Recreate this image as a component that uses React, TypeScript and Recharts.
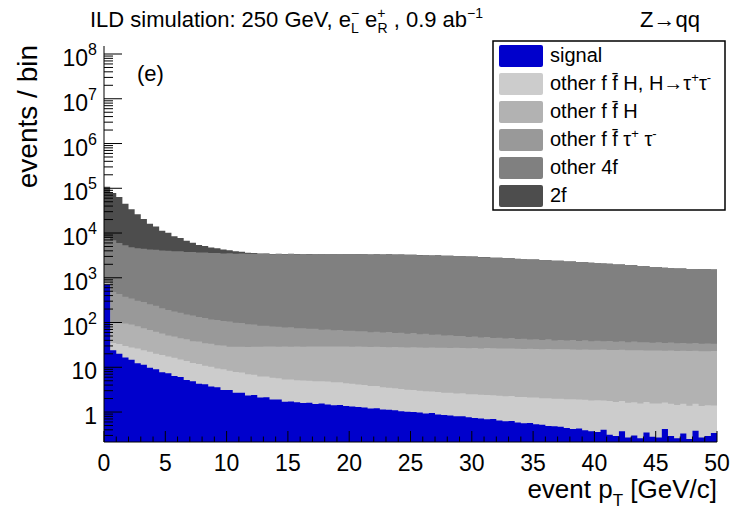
import React from 'react';
import { ComposedChart, Area, XAxis, YAxis } from 'recharts';

const FONT = '"Liberation Sans", Arial, Helvetica, sans-serif';

// lower edges of the 0.5 GeV pT bins, plus the closing edge at 50
const BIN_EDGES = Array.from({ length: 101 }, (_, i) => i * 0.5);

// events per bin (bottom of the stack first)
const signal = [
  700, 24, 20, 16.5, 14.8, 12.3, 11.4, 9.8, 9.0, 7.7,
  7.4, 6.4, 6.1, 5.2, 4.9, 4.3, 4.2, 3.7, 3.6, 3.1,
  3.1, 2.7, 2.7, 2.35, 2.4, 2.1, 2.15, 1.9, 1.9, 1.7,
  1.72, 1.66, 1.6, 1.62, 1.52, 1.55, 1.47, 1.42, 1.44, 1.36,
  1.33, 1.3, 1.26, 1.2, 1.22, 1.14, 1.12, 1.1, 1.04, 1.02,
  1.0, 0.98, 0.93, 0.95, 0.88, 0.86, 0.84, 0.8, 0.81, 0.76,
  0.74, 0.72, 0.69, 0.7, 0.65, 0.62, 0.63, 0.58, 0.56, 0.57,
  0.53, 0.52, 0.49, 0.48, 0.47, 0.44, 0.42, 0.43, 0.39, 0.37,
  0.36, 0.4, 0.31, 0.29, 0.37, 0.27, 0.3, 0.26, 0.35, 0.28,
  0.27, 0.42, 0.29, 0.26, 0.33, 0.25, 0.38, 0.27, 0.29, 0.34,
];

const ffHtautau = [
  30, 11, 13, 13.5, 13, 14, 12.5, 12.4, 11, 11.2,
  10, 9.9, 8.8, 8.7, 7.5, 7.5, 6.6, 6.6, 5.8, 5.9,
  5.3, 5.1, 4.95, 4.6, 4.45, 4.15, 4.05, 3.9, 3.8, 3.65,
  3.62, 3.5, 3.48, 3.4, 3.38, 3.3, 3.32, 3.2, 3.18, 3.02,
  2.98, 2.82, 2.78, 2.62, 2.58, 2.42, 2.38, 2.28, 2.22, 2.12,
  2.12, 2.02, 2.0, 1.92, 1.92, 1.85, 1.87, 1.8, 1.82, 1.75,
  1.77, 1.7, 1.72, 1.66, 1.67, 1.62, 1.64, 1.58, 1.6, 1.54,
  1.57, 1.52, 1.55, 1.5, 1.52, 1.48, 1.52, 1.47, 1.5, 1.45,
  1.48, 1.42, 1.45, 1.38, 1.4, 1.34, 1.36, 1.3, 1.32, 1.27,
  1.28, 1.22, 1.24, 1.18, 1.2, 1.14, 1.16, 1.1, 1.12, 1.06,
];

const ffH = [
  40, 65, 65, 65, 62, 56, 51, 46, 42, 38,
  34, 32.5, 29.5, 28.5, 26, 25.8, 23.6, 23.2, 21.5, 21.6,
  20.5, 20.8, 21.2, 21.5, 22, 22.6, 22.8, 23.2, 23.2, 23.6,
  23.6, 24.0, 23.8, 24.2, 24.1, 24.4, 24.3, 24.6, 24.5, 24.8,
  24.6, 25.0, 24.7, 24.5, 25.1, 24.8, 24.6, 25.0, 24.9, 24.7,
  25.0, 24.8, 24.5, 24.9, 24.6, 24.7, 24.3, 24.6, 24.5, 24.2,
  24.3, 24.0, 24.4, 24.1, 23.8, 24.2, 23.9, 23.8, 23.6, 23.9,
  23.6, 23.4, 23.7, 23.3, 23.2, 23.5, 23.1, 22.9, 23.2, 22.9,
  22.8, 23.0, 22.6, 22.7, 22.8, 22.3, 22.4, 22.6, 22.1, 22.3,
  22.2, 21.9, 22.1, 21.8, 21.9, 21.6, 21.8, 21.5, 21.3, 21.6,
];

const ffTauTau = [
  80, 380, 335, 282, 254, 224, 212, 189, 176, 151,
  140, 127, 122, 108, 105, 95, 92, 84, 83, 77,
  76, 70, 69, 63, 61, 56, 56, 52, 52, 48,
  49, 45, 46, 43, 44, 40, 41, 38, 39, 36,
  37, 34.5, 35.5, 32.5, 33.5, 31.5, 33, 30, 31, 28.5,
  30, 27, 28.5, 25.5, 26.5, 24, 25, 22.5, 23, 21,
  22, 20, 20.5, 18.5, 19.5, 17.5, 18.8, 17, 17.8, 16,
  16.8, 15.5, 16.3, 14.6, 15.7, 14.1, 15.6, 14, 15.2, 13.6,
  14.6, 13.5, 14.2, 13, 13.7, 12.5, 13.6, 12.1, 12.7, 11.6,
  12.6, 11.5, 12.1, 11.1, 11.6, 11, 11.6, 10.6, 11.5, 10.7,
];

const other4f = [
  7000, 6420, 5570, 4920, 4480, 4260, 4190, 4010, 3990, 3860,
  3840, 3750, 3760, 3640, 3630, 3540, 3550, 3460, 3470, 3390,
  3420, 3360, 3390, 3330, 3350, 3300, 3340, 3290, 3335, 3290,
  3330, 3285, 3325, 3290, 3320, 3280, 3315, 3275, 3310, 3270,
  3300, 3265, 3290, 3255, 3285, 3245, 3270, 3230, 3250, 3195,
  3210, 3150, 3165, 3105, 3115, 3050, 3060, 2990, 2990, 2925,
  2920, 2845, 2845, 2765, 2765, 2685, 2675, 2600, 2595, 2520,
  2505, 2430, 2425, 2350, 2345, 2275, 2265, 2195, 2185, 2115,
  2105, 2035, 2025, 1945, 1935, 1870, 1855, 1790, 1775, 1710,
  1695, 1635, 1625, 1578, 1572, 1540, 1536, 1512, 1510, 1492,
];

const twoF = [
  100000, 71000, 57500, 39800, 29000, 21700, 16100, 11800, 9800, 7150,
  6100, 4550, 3780, 2900, 2300, 1760, 1480, 1170, 1010, 760,
  620, 450, 330, 200, 150, 85, 62, 45, 35, 28,
  22, 20, 18, 16, 15, 14, 12, 11, 10, 10,
  9, 8, 8, 7, 7, 6, 6, 6, 5, 5,
  5, 4, 4, 4, 4, 4, 4, 3, 3, 3,
  3, 3, 3, 3, 3, 3, 3, 3, 3, 3,
  3, 3, 3, 3, 2, 2, 2, 2, 2, 2,
  2, 2, 2, 2, 2, 2, 2, 2, 2, 2,
  2, 2, 2, 2, 2, 2, 2, 2, 2, 2,
];

const SERIES = [
  { key: 'signal', color: '#0000cc', values: signal },
  { key: 'ffHtautau', color: '#cccccc', values: ffHtautau },
  { key: 'ffH', color: '#b2b2b2', values: ffH },
  { key: 'ffTauTau', color: '#999999', values: ffTauTau },
  { key: 'other4f', color: '#808080', values: other4f },
  { key: 'twoF', color: '#4d4d4d', values: twoF },
];

const X_TICKS = Array.from({ length: 51 }, (_, i) => i);
const Y_DECADES = [0.1, 1, 10, 100, 1e3, 1e4, 1e5, 1e6, 1e7, 1e8];
const Y_MIN = 0.214;
const Y_MAX = 1.51e8;
const Y_TICKS = Y_DECADES.flatMap((d) => [1, 2, 3, 4, 5, 6, 7, 8, 9].map((k) => k * d)).filter(
  (v) => v >= Y_MIN && v <= Y_MAX
);

// cumulative stack tops per bin edge
const data = BIN_EDGES.map((x, i) => {
  const bin = Math.min(i, signal.length - 1);
  const row: Record<string, number> = { x };
  let sum = 0;
  SERIES.forEach((s) => {
    sum += s.values[bin];
    row[s.key] = sum;
  });
  return row;
});

const isDecade = (v: number) => Math.abs(Math.log10(v) - Math.round(Math.log10(v))) < 1e-9;

const XTick = (props: any) => {
  const { x, y, payload } = props;
  const v = payload.value;
  const major = v % 5 === 0;
  return (
    <g>
      <line x1={x} x2={x} y1={y} y2={y - (major ? 11 : 5.5)} stroke="#000" strokeWidth={1} />
      {major && (
        <text x={x} y={y + 29} textAnchor="middle" fontSize={23} fontFamily={FONT} fill="#000">
          {v}
        </text>
      )}
    </g>
  );
};

const YTick = (props: any) => {
  const { x, y, payload } = props;
  const v = payload.value;
  const major = isDecade(v);
  const exp = Math.round(Math.log10(v));
  return (
    <g>
      <line x1={x} x2={x + (major ? 18 : 9)} y1={y} y2={y} stroke="#000" strokeWidth={1} />
      {major && exp >= 0 && (
        <text x={x - 7} y={y + 12} textAnchor="end" fontSize={23} fontFamily={FONT} fill="#000">
          {exp === 0 ? '1' : '10'}
          {exp >= 2 && (
            <tspan fontSize={16} dy={-11}>
              {exp}
            </tspan>
          )}
        </text>
      )}
    </g>
  );
};

const LEGEND_ROWS = ['signal', 'ffHtautau', 'ffH', 'ffTauTau', 'other4f', 'twoF'];

const LegendLabel = ({ k }: { k: string }) => {
  const sup = { fontSize: 13 };
  if (k === 'signal') return <>signal</>;
  if (k === 'ffHtautau')
    return (
      <>
        {'other f f\u0304 H, H→τ'}
        <tspan {...sup} dy={-8}>+</tspan>
        <tspan dy={8}>τ</tspan>
        <tspan {...sup} dy={-8}>-</tspan>
      </>
    );
  if (k === 'ffH') return <>{'other f f\u0304 H'}</>;
  if (k === 'ffTauTau')
    return (
      <>
        {'other f f\u0304 τ'}
        <tspan {...sup} dy={-8}>+</tspan>
        <tspan dy={8}>{' τ'}</tspan>
        <tspan {...sup} dy={-8}>-</tspan>
      </>
    );
  if (k === 'other4f') return <>other 4f</>;
  return <>2f</>;
};

const Overlay = () => (
  <svg
    width={737}
    height={514}
    style={{ position: 'absolute', left: 0, top: 0, pointerEvents: 'none' }}
    fontFamily={FONT}
  >
    <text x={90} y={27} fontSize={22} fill="#000">
      {'ILD simulation: 250 GeV, e'}
      <tspan fontSize={14} dy={-9}>−</tspan>
      <tspan fontSize={14} dx={-8} dy={15}>L</tspan>
      <tspan dy={-6}>{' e'}</tspan>
      <tspan fontSize={14} dy={-9}>+</tspan>
      <tspan fontSize={14} dx={-8} dy={15}>R</tspan>
      <tspan dy={-6}>{' , 0.9 ab'}</tspan>
      <tspan fontSize={14} dy={-9}>−1</tspan>
    </text>
    <text x={640} y={27} fontSize={22} fill="#000">
      Z→qq
    </text>
    <text x={137} y={81} fontSize={22} fill="#000">
      (e)
    </text>
    <text transform="translate(37,45) rotate(-90)" textAnchor="end" fontSize={28} fill="#000">
      events / bin
    </text>
    <text x={717} y={498} textAnchor="end" fontSize={26} fill="#000">
      {'event p'}
      <tspan fontSize={17} dy={8}>T</tspan>
      <tspan dy={-8}>{' [GeV/c]'}</tspan>
    </text>
    <rect x={493} y={41} width={232} height={169} fill="#fff" stroke="#000" strokeWidth={1.5} />
    {LEGEND_ROWS.map((k, i) => {
      const s = SERIES.find((d) => d.key === k)!;
      const cy = 56 + i * 28;
      return (
        <g key={k}>
          <rect x={499} y={cy - 11} width={44} height={22} rx={2} fill={s.color} />
          <text x={550} y={cy + 6} fontSize={20} fill="#000">
            <LegendLabel k={k} />
          </text>
        </g>
      );
    })}
  </svg>
);

export default function App() {
  const stackTopFirst = [...SERIES].reverse();
  return (
    <div style={{ position: 'absolute', left: 0, top: 0, width: 737, height: 514, background: '#fff' }}>
      <ComposedChart width={737} height={514} data={data} margin={{ top: 46, right: 20, bottom: 0, left: 0 }}>
        {stackTopFirst.map((s) => (
          <Area
            key={s.key}
            dataKey={s.key}
            type="stepAfter"
            fill={s.color}
            fillOpacity={1}
            stroke="none"
            baseValue={Y_MIN}
            dot={false}
            activeDot={false}
            isAnimationActive={false}
          />
        ))}
        <XAxis
          dataKey="x"
          type="number"
          domain={[0, 50]}
          allowDataOverflow
          ticks={X_TICKS}
          interval={0}
          tickSize={0}
          tickMargin={0}
          tickLine={false}
          axisLine={{ stroke: '#000' }}
          height={72}
          tick={<XTick />}
        />
        <XAxis
          xAxisId="top"
          orientation="top"
          dataKey="x"
          type="number"
          domain={[0, 50]}
          height={0}
          tick={false}
          tickLine={false}
          axisLine={{ stroke: '#000' }}
        />
        <YAxis
          type="number"
          scale="log"
          domain={[Y_MIN, Y_MAX]}
          allowDataOverflow
          ticks={Y_TICKS}
          interval={0}
          tickSize={0}
          tickMargin={0}
          tickLine={false}
          axisLine={{ stroke: '#000' }}
          width={104}
          tick={<YTick />}
        />
        <YAxis
          yAxisId="right"
          orientation="right"
          type="number"
          domain={[0, 1]}
          width={0}
          tick={false}
          tickLine={false}
          axisLine={{ stroke: '#000' }}
        />
      </ComposedChart>
      <Overlay />
    </div>
  );
}
